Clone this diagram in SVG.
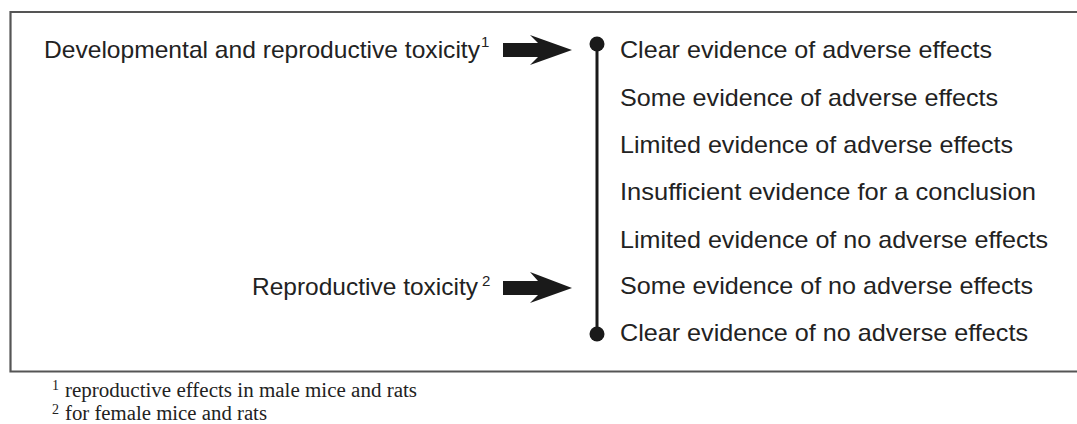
<svg xmlns="http://www.w3.org/2000/svg" width="1077" height="424" viewBox="0 0 1077 424">
<style>
.t{font-family:"Liberation Sans",Arial,sans-serif;font-size:24px;fill:#222}
.sup{font-family:"Liberation Sans",Arial,sans-serif;font-size:15px;fill:#222}
.fn{font-family:"Liberation Serif","Times New Roman",serif;font-size:20px;fill:#222}
.fs{font-family:"Liberation Serif","Times New Roman",serif;font-size:14px;fill:#222}
.arr{fill:#1a1a1a}
</style>
<rect x="0" y="0" width="1077" height="424" fill="#fff"/>
<g id="frame">
<path d="M1077 12 H10.5 V371.5 H1077" fill="none" stroke="#555" stroke-width="2.2"/>
</g>
<g id="scale">
<line x1="597" y1="44" x2="597" y2="334" stroke="#1a1a1a" stroke-width="3"/>
<circle cx="597" cy="44" r="7.5" fill="#1a1a1a"/>
<circle cx="597" cy="334" r="7.5" fill="#1a1a1a"/>
</g>
<g id="levels">
<text class="t" x="620" y="58" textLength="372" lengthAdjust="spacingAndGlyphs">Clear evidence of adverse effects</text>
<text class="t" x="620" y="105.5" textLength="378" lengthAdjust="spacingAndGlyphs">Some evidence of adverse effects</text>
<text class="t" x="620" y="153" textLength="393" lengthAdjust="spacingAndGlyphs">Limited evidence of adverse effects</text>
<text class="t" x="620" y="200" textLength="416" lengthAdjust="spacingAndGlyphs">Insufficient evidence for a conclusion</text>
<text class="t" x="620" y="248" textLength="428" lengthAdjust="spacingAndGlyphs">Limited evidence of no adverse effects</text>
<text class="t" x="620" y="294" textLength="413" lengthAdjust="spacingAndGlyphs">Some evidence of no adverse effects</text>
<text class="t" x="620" y="341" textLength="408" lengthAdjust="spacingAndGlyphs">Clear evidence of no adverse effects</text>
</g>
<g id="devrep">
<text class="t" x="44" y="58" textLength="436" lengthAdjust="spacingAndGlyphs">Developmental and reproductive toxicity</text>
<text class="sup" x="481" y="47">1</text>
</g>
<g id="rep">
<text class="t" x="252" y="295" textLength="226" lengthAdjust="spacingAndGlyphs">Reproductive toxicity</text>
<text class="sup" x="482" y="286">2</text>
</g>
<g id="connectors">
<polygon class="arr" points="503,43 538,43 530,35 572,50 530,65 538,57 503,57"/>
<polygon class="arr" points="503,281 538,281 530,272 572,288 530,303 538,295 503,295"/>
</g>
<g id="footnotes">
<text class="fs" x="52" y="390">1</text>
<text class="fn" x="65" y="397" textLength="352" lengthAdjust="spacingAndGlyphs">reproductive effects in male mice and rats</text>
<text class="fs" x="52" y="414">2</text>
<text class="fn" x="65" y="420" textLength="202" lengthAdjust="spacingAndGlyphs">for female mice and rats</text>
</g>
</svg>
